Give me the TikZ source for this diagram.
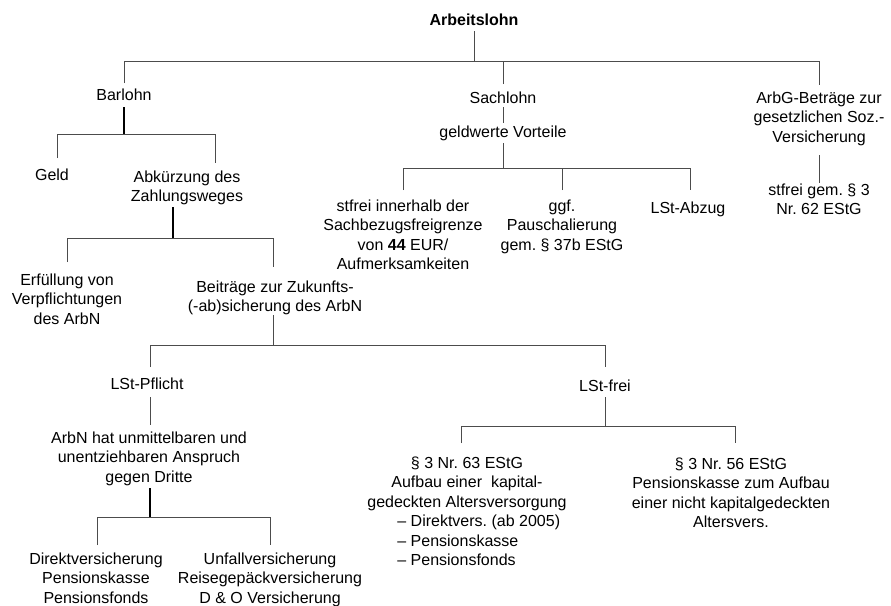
\documentclass[tikz,border=0pt]{standalone}
\usepackage{fontspec}
\setmainfont{Liberation Sans}
\frenchspacing
\newcommand\stack[1]{\begin{tabular}[t]{@{}c@{}}#1\end{tabular}}
\tikzset{
  lbl/.style={inner sep=0pt, anchor=base, font=\fontsize{16}{19.5}\selectfont},
  conn/.style={draw=black!70, line width=1pt},
  stem/.style={draw=black, line width=1.8pt},
}
\begin{document}
\begin{tikzpicture}[x=1pt,y=-1pt]
\useasboundingbox (0,0) rectangle (891,605);
\fill[white] (0,0) rectangle (891,605);

% ---- labels ----
\node[lbl] (arb) at (474,25) {\textbf{Arbeitslohn}};
\node[lbl] (barlohn) at (124,100) {Barlohn};
\node[lbl] (sachlohn) at (503,103) {Sachlohn};
\node[lbl] (arbg) at (819,103) {\stack{ArbG-Beträge zur\\gesetzlichen Soz.-\\Versicherung}};
\node[lbl] (geldw) at (503,137) {geldwerte Vorteile};
\node[lbl] (geld) at (52,180) {Geld};
\node[lbl] (abk) at (187,182) {\stack{Abkürzung des\\Zahlungsweges}};
\node[lbl] (stfreiA) at (403,211) {\stack{stfrei innerhalb der\\Sachbezugsfreigrenze\\von \textbf{44} EUR/\\Aufmerksamkeiten}};
\node[lbl] (ggf) at (562,211) {\stack{ggf.\\Pauschalierung\\gem. § 37b EStG}};
\node[lbl] (lstabz) at (688,213) {LSt-Abzug};
\node[lbl] (stfreiG) at (819,195) {\stack{stfrei gem. § 3\\Nr. 62 EStG}};
\node[lbl] (erf) at (67,285) {\stack{Erfüllung von\\Verpflichtungen\\des ArbN}};
\node[lbl] (beitr) at (275,292) {\stack{Beiträge zur Zukunfts-\\(-ab)sicherung des ArbN}};
\node[lbl] (pflicht) at (147,389) {LSt-Pflicht};
\node[lbl] (frei) at (605,391) {LSt-frei};
\node[lbl] (arbn) at (149,443) {\stack{ArbN hat unmittelbaren und\\unentziehbaren Anspruch\\gegen Dritte}};
\node[lbl] (p63) at (467,468) {\stack{§ 3 Nr. 63 EStG\\Aufbau einer\ \ kapital-\\gedeckten Altersversorgung\\
  \multicolumn{1}{@{}l@{}}{\hspace*{30pt}– Direktvers. (ab 2005)}\\
  \multicolumn{1}{@{}l@{}}{\hspace*{30pt}– Pensionskasse}\\
  \multicolumn{1}{@{}l@{}}{\hspace*{30pt}– Pensionsfonds}}};
\node[lbl] (p56) at (731,469) {\stack{§ 3 Nr. 56 EStG\\Pensionskasse zum Aufbau\\einer nicht kapitalgedeckten\\Altersvers.}};
\node[lbl] (direkt) at (96,564) {\stack{Direktversicherung\\Pensionskasse\\Pensionsfonds}};
\node[lbl] (unfall) at (270,564) {\stack{Unfallversicherung\\Reisegepäckversicherung\\D \& O Versicherung}};

% ---- connector end points ----
\coordinate (arb-bot) at (474,31);
\coordinate (barlohn-top) at (124,83);  \coordinate (barlohn-bot) at (124,107);
\coordinate (sachlohn-top) at (503,84); \coordinate (sachlohn-bot) at (503,107);
\coordinate (arbg-top) at (819,85);     \coordinate (arbg-bot) at (819,155);
\coordinate (geldw-top) at (503,123);   \coordinate (geldw-bot) at (503,143);
\coordinate (geld-top) at (57,158);
\coordinate (abk-top) at (215,163);     \coordinate (abk-bot) at (173,207);
\coordinate (stfreiA-top) at (403,190);
\coordinate (ggf-top) at (562,190);
\coordinate (lstabz-top) at (690,190);
\coordinate (stfreiG-top) at (819,183);
\coordinate (erf-top) at (67,262);
\coordinate (beitr-top) at (273,267);   \coordinate (beitr-bot) at (273,315);
\coordinate (pflicht-top) at (150,367); \coordinate (pflicht-bot) at (150,397);
\coordinate (frei-top) at (605,367);    \coordinate (frei-bot) at (605,397);
\coordinate (arbn-top) at (150,425);    \coordinate (arbn-bot) at (150,488);
\coordinate (p63-top) at (461,443);
\coordinate (p56-top) at (735,443);
\coordinate (direkt-top) at (97,545);
\coordinate (unfall-top) at (270,545);
% bus heights
\coordinate (busA) at (0,61);
\coordinate (busB) at (0,134);
\coordinate (busC) at (0,168);
\coordinate (busD) at (0,238);
\coordinate (busE) at (0,345);
\coordinate (busF) at (0,426);
\coordinate (busG) at (0,517);

% ---- connectors ----
% Arbeitslohn
\draw[conn] (arb-bot) -- (arb-bot |- busA);
\draw[conn] (barlohn-top) |- (arbg-top |- busA) -- (arbg-top);
\draw[conn] (sachlohn-top) -- (sachlohn-top |- busA);
% Sachlohn
\draw[conn] (sachlohn-bot) -- (geldw-top);
\draw[conn] (geldw-bot) -- (geldw-bot |- busC);
\draw[conn] (stfreiA-top) |- (lstabz-top |- busC) -- (lstabz-top);
\draw[conn] (ggf-top) -- (ggf-top |- busC);
% ArbG-Beitraege
\draw[conn] (arbg-bot) -- (stfreiG-top);
% Barlohn
\draw[stem] (barlohn-bot) -- (barlohn-bot |- busB);
\draw[conn] (geld-top) |- (abk-top |- busB) -- (abk-top);
% Abkuerzung des Zahlungsweges
\draw[stem] (abk-bot) -- (abk-bot |- busD);
\draw[conn] (erf-top) |- (beitr-top |- busD) -- (beitr-top);
% Beitraege zur Zukunftssicherung
\draw[conn] (beitr-bot) -- (beitr-bot |- busE);
\draw[conn] (pflicht-top) |- (frei-top |- busE) -- (frei-top);
% LSt-Pflicht
\draw[conn] (pflicht-bot) -- (arbn-top);
\draw[stem] (arbn-bot) -- (arbn-bot |- busG);
\draw[conn] (direkt-top) |- (unfall-top |- busG) -- (unfall-top);
% LSt-frei
\draw[conn] (frei-bot) -- (frei-bot |- busF);
\draw[conn] (p63-top) |- (p56-top |- busF) -- (p56-top);
\end{tikzpicture}
\end{document}
